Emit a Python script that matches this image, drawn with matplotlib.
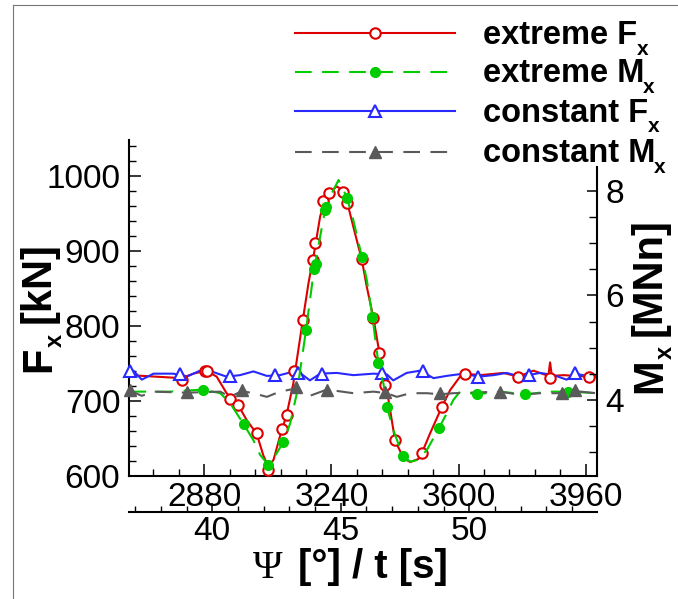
import matplotlib
matplotlib.use('Agg')
import matplotlib.pyplot as plt
from matplotlib.lines import Line2D
from matplotlib.ticker import MultipleLocator

SANS = ['Liberation Sans', 'DejaVu Sans']
plt.rcParams['font.family'] = SANS

# ---------------- data ----------------
# extreme Fx [kN] (line)
ext_fx_psi = [2668, 2816, 2849, 2885, 2915, 2943, 2976, 3000, 3028, 3047, 3061, 3076, 3094, 3113,
              3132, 3159, 3175, 3189, 3208, 3222, 3236, 3255, 3269, 3283, 3302, 3326, 3340, 3359,
              3376, 3387, 3397, 3420, 3444, 3463, 3486, 3496, 3519, 3552, 3576, 3604, 3618, 3661,
              3727, 3769, 3812, 3854, 3859, 3864, 3897, 3968, 3991]
ext_fx_val = [734, 730, 736, 740, 732, 710, 694, 674, 656, 627, 612, 621, 652, 681,
              723, 808, 857, 892, 946, 968, 979, 986, 982, 968, 932, 888, 852, 810,
              763, 730, 714, 647, 623, 618, 622, 630, 656, 691, 714, 732, 736, 734,
              737, 732, 740, 733, 751, 733, 734, 732, 732]
# extreme Fx symbols
ext_fx_sym_psi = [2816, 2882, 2889, 2953, 2976, 3028, 3061, 3101, 3113, 3135, 3159, 3187, 3194,
                  3217, 3234, 3272, 3283, 3326, 3359, 3376, 3392, 3420, 3496, 3552, 3618, 3769,
                  3859, 3968]
ext_fx_sym_val = [728, 739, 740, 702, 694, 657, 607, 662, 681, 739, 808, 888, 910,
                  966, 977, 979, 964, 889, 810, 763, 721, 647, 630, 691, 736, 732,
                  730, 732]

# extreme Mx [MNm] (line)
ext_mx_psi = [2668, 2783, 2877, 2925, 2953, 2991, 3019, 3038, 3061, 3085, 3104, 3123, 3142, 3168,
              3189, 3208, 3222, 3236, 3260, 3283, 3302, 3326, 3340, 3356, 3373, 3387, 3397, 3415,
              3442, 3463, 3481, 3510, 3545, 3566, 3585, 3604, 3651, 3717, 3788, 3859, 3911, 3991]
ext_mx_val = [4.16, 4.16, 4.20, 4.13, 3.94, 3.54, 3.23, 2.95, 2.76, 2.98, 3.20, 3.55, 4.13, 5.34,
              6.42, 7.13, 7.64, 7.89, 8.21, 7.89, 7.44, 6.74, 6.30, 5.59, 4.70, 4.32, 3.87, 3.43,
              2.93, 2.82, 2.85, 3.04, 3.47, 3.74, 4.00, 4.16, 4.11, 4.16, 4.11, 4.16, 4.16, 4.13]
ext_mx_sym_psi = [2877, 2991, 3061, 3104, 3168, 3191, 3196, 3222, 3225, 3283, 3326, 3356, 3373,
                  3397, 3442, 3545, 3651, 3788, 3911]
ext_mx_sym_val = [4.20, 3.54, 2.76, 3.20, 5.34, 6.50, 6.60, 7.64, 7.70, 7.86, 6.74, 5.59, 4.70,
                  3.87, 2.93, 3.47, 4.11, 4.11, 4.16]

# constant Fx [kN]
con_fx_psi = [2668, 2679, 2703, 2736, 2792, 2830, 2868, 2906, 2943, 2981, 3019, 3057, 3094, 3142,
              3179, 3208, 3255, 3302, 3359, 3397, 3415, 3453, 3491, 3529, 3566, 3614, 3656, 3699,
              3736, 3774, 3831, 3869, 3906, 3930, 3963, 3991]
con_fx_val = [737, 740, 728, 736, 736, 732, 740, 738, 732, 734, 739, 733, 734, 740,
              727, 736, 737, 734, 736, 735, 727, 737, 740, 730, 733, 736, 732, 734,
              737, 732, 737, 734, 728, 736, 733, 733]
con_fx_sym_psi = [2670, 2811, 2953, 3080, 3144, 3212, 3382, 3500, 3656, 3798, 3930]
con_fx_sym_val = [739, 736, 733, 734, 737, 736, 737, 739, 732, 734, 737]

# constant Mx [MNm]
con_mx_psi = [2668, 2703, 2736, 2830, 2925, 2953, 2986, 3019, 3057, 3094, 3139, 3179, 3227, 3302,
              3359, 3397, 3425, 3463, 3510, 3548, 3585, 3717, 3774, 3831, 3892, 3930, 3991]
con_mx_val = [4.18, 4.08, 4.16, 4.14, 4.16, 4.06, 4.17, 4.13, 4.06, 4.16, 4.22, 4.08, 4.20, 4.13,
              4.16, 4.13, 4.06, 4.13, 4.13, 4.11, 4.13, 4.16, 4.10, 4.13, 4.13, 4.17, 4.13]
con_mx_sym_psi = [2670, 2830, 2986, 3139, 3227, 3392, 3548, 3717, 3892, 3930]
con_mx_sym_val = [4.19, 4.16, 4.19, 4.25, 4.20, 4.15, 4.13, 4.16, 4.13, 4.19]

# legend texts: (main text, subscript)
legend_main = ["extreme F", "extreme M", "constant F", "constant M"]
legend_sub = ["x", "x", "x", "x"]

# ---------------- styles ----------------
RED = '#dc0000'
GREEN = '#00cc00'
BLUE = '#2828ff'
GRAY = '#5a5a5a'
DASH = (0, (8, 5))

W, H = 678, 599
def fx(x):
    return x / W
def fy(y):
    return 1 - y / H

fig = plt.figure(figsize=(W / 100, H / 100), dpi=100)
renderer = fig.canvas.get_renderer()


def compose(x, y, parts, rotation=0):
    """Draw consecutive text pieces (pixel coords, y downward)."""
    cur = 0.0
    for p in parts:
        cur += p.get('gap', 0)
        drop = p.get('drop', 0)
        if rotation == 0:
            X, Y = x + cur, y + drop
        else:
            X, Y = x + drop, y - cur
        t = fig.text(fx(X), fy(Y), p['s'], fontsize=p['size'],
                     fontweight=p.get('weight', 'bold'), family=p.get('family', SANS),
                     rotation=rotation, rotation_mode='anchor', ha='left', va='baseline')
        bb = t.get_window_extent(renderer)
        cur += bb.width if rotation == 0 else bb.height


x0, x1 = 129.3, 596.7
ybot = 475.5
ax1 = fig.add_axes([fx(x0), fy(ybot), (x1 - x0) / W, (ybot - 140) / H])
ax2 = fig.add_axes([fx(x0), fy(ybot), (x1 - x0) / W, (ybot - 166.7) / H])
ax3 = fig.add_axes([fx(x0), fy(511.7), (x1 - x0) / W, 0.002])

XLIM = (2667.6, 3991)
for a in (ax1, ax2):
    a.set_xlim(*XLIM)
ax1.set_ylim(600, 1048)
ax2.set_ylim(2.555, 8.465)
ax3.set_xlim(36.77, 54.96)

SPW = 1.5
TICK_FS = 24
ax1.spines['top'].set_visible(False)
ax1.spines['right'].set_visible(False)
for s in ('left', 'bottom'):
    ax1.spines[s].set_linewidth(SPW)
ax1.xaxis.set_major_locator(MultipleLocator(360))
ax1.xaxis.set_minor_locator(MultipleLocator(72))
ax1.yaxis.set_major_locator(MultipleLocator(100))
ax1.yaxis.set_minor_locator(MultipleLocator(20))
ax1.tick_params(axis='both', which='major', direction='in', length=8.6, width=1.1,
                labelsize=TICK_FS)
ax1.tick_params(axis='both', which='minor', direction='in', length=5, width=1.0)
ax1.tick_params(axis='x', which='major', pad=4.5)
ax1.tick_params(axis='y', which='major', pad=6.5)

ax2.patch.set_visible(False)
for s in ('left', 'top', 'bottom'):
    ax2.spines[s].set_visible(False)
ax2.spines['right'].set_linewidth(SPW)
ax2.xaxis.set_visible(False)
ax2.yaxis.tick_right()
ax2.yaxis.set_major_locator(MultipleLocator(2))
ax2.yaxis.set_minor_locator(MultipleLocator(0.5))
ax2.tick_params(axis='y', which='major', direction='in', length=7, width=1.1,
                labelsize=TICK_FS, pad=6)
ax2.tick_params(axis='y', which='minor', direction='in', length=5.5, width=1.0)

ax3.patch.set_visible(False)
for s in ('left', 'top', 'right'):
    ax3.spines[s].set_visible(False)
ax3.spines['bottom'].set_linewidth(SPW)
ax3.yaxis.set_visible(False)
ax3.xaxis.set_major_locator(MultipleLocator(5))
ax3.xaxis.set_minor_locator(MultipleLocator(1))
ax3.tick_params(axis='x', which='major', direction='in', length=6.5, width=1.1,
                labelsize=TICK_FS, pad=3)
ax3.tick_params(axis='x', which='minor', direction='in', length=4.5, width=1.0)

# ---------------- series ----------------
ax1.plot(ext_fx_psi, ext_fx_val, color=RED, lw=1.5, zorder=3)
ax1.plot(ext_fx_sym_psi, ext_fx_sym_val, ls='none', marker='o', ms=7.5, mfc='white',
         mec=RED, mew=1.5, zorder=4, clip_on=False)
ax1.plot(con_fx_psi, con_fx_val, color=BLUE, lw=1.5, zorder=3)
ax1.plot(con_fx_sym_psi, con_fx_sym_val, ls='none', marker='^', ms=8.5, mfc='white',
         mec=BLUE, mew=1.5, zorder=4, clip_on=False)

ax2.plot(ext_mx_psi, ext_mx_val, color=GREEN, lw=1.5, ls=DASH, zorder=3)
ax2.plot(ext_mx_sym_psi, ext_mx_sym_val, ls='none', marker='o', ms=7, mfc=GREEN,
         mec=GREEN, zorder=4, clip_on=False)
ax2.plot(con_mx_psi, con_mx_val, color=GRAY, lw=1.5, ls=DASH, zorder=3)
ax2.plot(con_mx_sym_psi, con_mx_sym_val, ls='none', marker='^', ms=8.5, mfc=GRAY,
         mec=GRAY, zorder=4, clip_on=False)

# ---------------- legend (manual) ----------------
leg_styles = [
    dict(color=RED, ls='-', marker='o', ms=7.5, mfc='white', mec=RED, mew=1.5),
    dict(color=GREEN, ls=DASH, marker='o', ms=7, mfc=GREEN, mec=GREEN, mew=1.0),
    dict(color=BLUE, ls='-', marker='^', ms=8.5, mfc='white', mec=BLUE, mew=1.5),
    dict(color=GRAY, ls=DASH, marker='^', ms=8.5, mfc=GRAY, mec=GRAY, mew=1.0),
]
leg_y = [33.3, 71.7, 111.0, 151.7]
sub_gap = [0, -2, 0, -2]
for yy, st, main, sub, g in zip(leg_y, leg_styles, legend_main, legend_sub, sub_gap):
    fig.add_artist(Line2D([fx(295), fx(455)], [fy(yy), fy(yy)], lw=1.5, color=st['color'],
                          ls=st['ls'], transform=fig.transFigure))
    fig.add_artist(Line2D([fx(375.5)], [fy(yy)], ls='none', transform=fig.transFigure,
                          marker=st['marker'], markersize=st['ms'], markerfacecolor=st['mfc'],
                          markeredgecolor=st['mec'], markeredgewidth=st['mew']))
    compose(483, yy + 10.5, [dict(s=main, size=23.5),
                             dict(s=sub, size=15, drop=11, gap=g)])

# ---------------- axis labels ----------------
compose(50, 372, [dict(s="F", size=30), dict(s="x", size=17, drop=12, gap=0),
                  dict(s="[kN]", size=30, gap=10)], rotation=90)
compose(661, 393, [dict(s="M", size=30), dict(s="x", size=17, drop=11, gap=-1),
                   dict(s="[MNn]", size=30, gap=10)], rotation=90)
compose(253, 578, [dict(s="\u03a8", size=29, weight='normal',
                        family=['Liberation Serif', 'DejaVu Serif']),
                   dict(s="[°] / t [s]", size=29, gap=15)])

# ---------------- outer frame ----------------
fig.add_artist(Line2D([fx(13), fx(678)], [fy(5), fy(5)], color='#777777', lw=0.8,
                      transform=fig.transFigure))
fig.add_artist(Line2D([fx(13), fx(13)], [fy(5), fy(599)], color='#777777', lw=0.8,
                      transform=fig.transFigure))

fig.savefig('out.png', dpi=100)
